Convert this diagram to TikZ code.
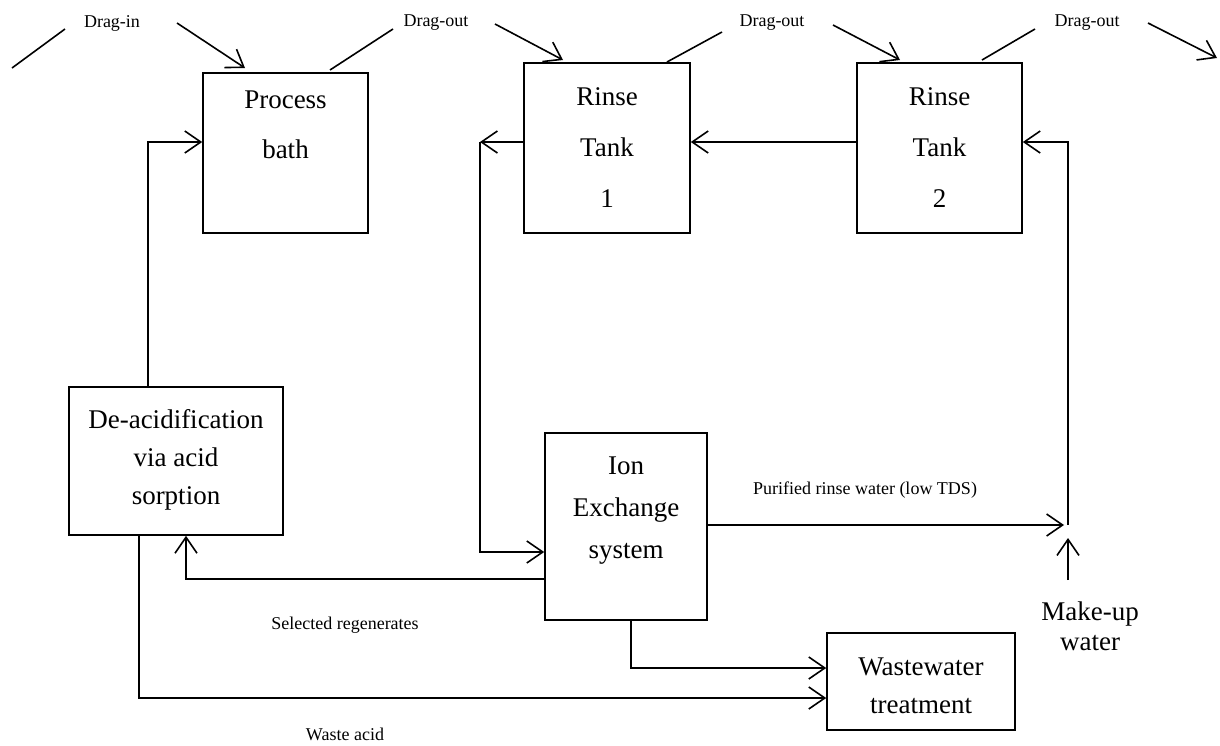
\documentclass[tikz,border=0pt]{standalone}
\usepackage{fontspec}
\setmainfont{Liberation Serif}
\usetikzlibrary{arrows.meta,calc}
\begin{document}
\begin{tikzpicture}[x=1pt,y=-1pt,
  box/.style={draw, line width=1.6pt, inner sep=0pt},
  boxtext/.style={align=center, inner sep=0pt},
  small/.style={font=\fontsize{18}{22}\selectfont, inner sep=0pt},
  ln/.style={line width=1.6pt},
  arr/.style={line width=1.6pt, -{Straight Barb[length=16pt,width=22pt,line width=1.6pt]}}]
\useasboundingbox (0,0) rectangle (1220,745);

% ---- process units ----
\node[box, minimum width=165pt, minimum height=160pt] (process) at (285.5,153) {};
\node[boxtext, font=\fontsize{27}{50}\selectfont] (processtxt) at (285.5,125) {Process\\bath};

\node[box, minimum width=166pt, minimum height=170pt] (rinse1) at (607,148) {};
\node[boxtext, font=\fontsize{27}{51}\selectfont] (rinse1txt) at (607,148) {Rinse\\Tank\\1};

\node[box, minimum width=165pt, minimum height=170pt] (rinse2) at (939.5,148) {};
\node[boxtext, font=\fontsize{27}{51}\selectfont] (rinse2txt) at (939.5,148) {Rinse\\Tank\\2};

\node[box, minimum width=214pt, minimum height=148pt] (deacid) at (176,461) {};
\node[boxtext, font=\fontsize{27}{38}\selectfont] (deacidtxt) at (176,460) {De-acidification\\via acid\\sorption};

\node[box, minimum width=162pt, minimum height=187pt] (ion) at (626,526.5) {};
\node[boxtext, font=\fontsize{27}{42}\selectfont] (iontxt) at (626,511) {Ion\\Exchange\\system};

\node[box, minimum width=188pt, minimum height=97pt] (waste) at (921,681.5) {};
\node[boxtext, font=\fontsize{27}{38}\selectfont] (wastetxt) at (921,686) {Wastewater\\treatment};

\node[boxtext, font=\fontsize{27}{30}\selectfont] (makeup) at (1090,626) {Make-up\\water};

% ---- drag-in / drag-out along the line ----
\node[small] (dragin) at (112,23) {Drag-in};
\node[small] (dragout1) at (436,23) {Drag-out};
\node[small] (dragout2) at (772,23) {Drag-out};
\node[small] (dragout3) at (1087,23) {Drag-out};

\coordinate (a0) at (12,68);   \coordinate (a1) at (65,29);
\coordinate (b0) at (177,23);  \coordinate (b1) at (245,68);
\coordinate (c0) at (330,70);  \coordinate (c1) at (393,29);
\coordinate (d0) at (495,24);  \coordinate (d1) at (563,60);
\coordinate (e0) at (667,62);  \coordinate (e1) at (722,32);
\coordinate (f0) at (833,25);  \coordinate (f1) at (900,60);
\coordinate (g0) at (982,60);  \coordinate (g1) at (1035,29);
\coordinate (h0) at (1148,23); \coordinate (h1) at (1217,58);

\draw[ln] (a0) -- (a1);
\draw[arr] (b0) -- (b1);
\draw[ln] (c0) -- (c1);
\draw[arr] (d0) -- (d1);
\draw[ln] (e0) -- (e1);
\draw[arr] (f0) -- (f1);
\draw[ln] (g0) -- (g1);
\draw[arr] (h0) -- (h1);

% ---- flow lines ----
\coordinate (top) at (148,142);
\coordinate (r1out) at (480,142);
\coordinate (ionin) at (480,552);
\coordinate (mix) at (1068,525);
\coordinate (mixin) at (1064,525);
\coordinate (muin) at (1068,538);
\coordinate (mufrom) at (1068,580);
\coordinate (regen) at (186,579);
\coordinate (ww) at (631,668);
\coordinate (wa) at (139,698);

% acid recovered to the process bath
\draw[arr] (deacid.north -| top) |- (process.west |- top);
% counter-current rinse
\draw[arr] (rinse2.west |- top) -- (rinse1.east |- top);
\draw[arr] (rinse1.west |- top) -- (r1out);
\draw[arr] (r1out) |- (ion.west |- ionin);
% purified water back to the last rinse
\draw[arr] (ion.east |- mix) -- (mixin);
\draw[arr] (mix) |- (rinse2.east |- top);
\draw[arr] (mufrom) -- (muin);
% regenerates and waste streams
\draw[arr] (ion.west |- regen) -| (deacid.south -| regen);
\draw[arr] (ion.south -| ww) |- (waste.west |- ww);
\draw[arr] (deacid.south -| wa) |- (waste.west |- wa);

% ---- stream labels ----
\node[small] (purified) at (865,490) {Purified rinse water (low TDS)};
\node[small] (selected) at (345,625) {Selected regenerates};
\node[small] (wasteacid) at (345,734) {Waste acid};
\end{tikzpicture}
\end{document}
